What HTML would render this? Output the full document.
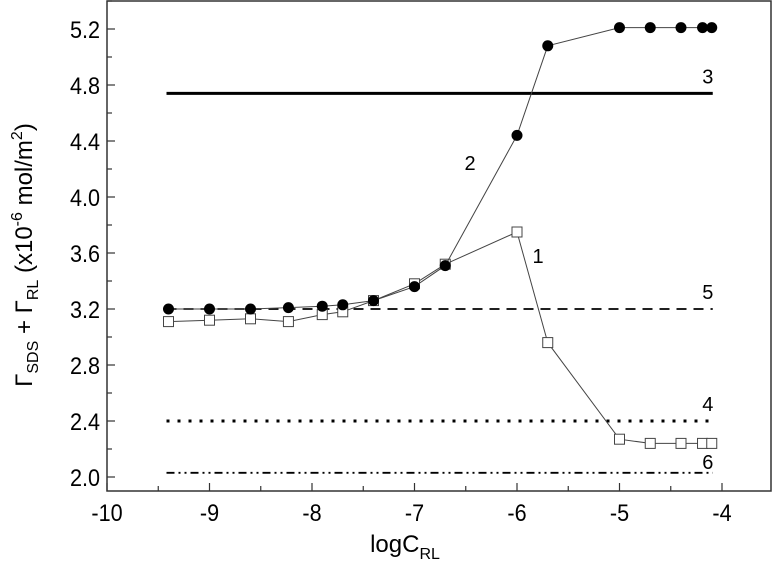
<!DOCTYPE html>
<html><head><meta charset="utf-8">
<style>
html,body{margin:0;padding:0;background:#fff;}
svg{display:block;font-family:"Liberation Sans",Arial,sans-serif;}
</style></head>
<body>
<svg id="chart" width="774" height="571" viewBox="0 0 774 571">
<rect x="107" y="1" width="664" height="490" fill="none" stroke="#333" stroke-width="1.5"/>
<g id="axes"></g>
<g id="series"></g>
<text x="22" y="245" font-size="24" text-anchor="middle" transform="rotate(-90 32 245)">Γ<tspan font-size="16" dy="6">SDS</tspan><tspan dy="-6"> + Γ</tspan><tspan font-size="16" dy="6">RL</tspan><tspan dy="-6"> (x10</tspan><tspan font-size="16" dy="-10">-6</tspan><tspan dy="10"> mol/m</tspan><tspan font-size="16" dy="-10">2</tspan><tspan dy="10">)</tspan></text>
<text x="405" y="552" font-size="24" text-anchor="middle">logC<tspan font-size="16" dy="7">RL</tspan></text>
</svg>
<script>
const xTicks=[-10,-9,-8,-7,-6,-5,-4];
const yTicks=[2.0,2.4,2.8,3.2,3.6,4.0,4.4,4.8,5.2];
const xs2=[-9.4,-9.0,-8.6,-8.23,-7.9,-7.7,-7.4,-7.0,-6.7,-6.0,-5.7,-5.0,-4.7,-4.4,-4.19,-4.1];
const ys2=[3.20,3.20,3.20,3.21,3.22,3.23,3.26,3.36,3.51,4.44,5.08,5.21,5.21,5.21,5.21,5.21];
const xs1=[-9.4,-9.0,-8.6,-8.23,-7.9,-7.7,-7.4,-7.0,-6.7,-6.0,-5.7,-5.0,-4.7,-4.4,-4.19,-4.1];
const ys1=[3.11,3.12,3.13,3.11,3.16,3.18,3.26,3.38,3.52,3.75,2.96,2.27,2.24,2.24,2.24,2.24];
const refNames=['3','5','4','6'];
const refValues=[4.74,3.2,2.4,2.03];
const refStart=-9.4, refEnd=-4.1;
const NS='http://www.w3.org/2000/svg';
function X(v){return 517+(v+6)*102.5;}
function Y(v){return 477-(v-2)*140;}
function mk(tag,attrs,parent){const e=document.createElementNS(NS,tag);for(const k in attrs)e.setAttribute(k,attrs[k]);parent.appendChild(e);return e;}
const ax=document.getElementById('axes'), sr=document.getElementById('series');
xTicks.forEach(t=>{
  const l=mk('line',{x1:X(t),x2:X(t),y1:491,y2:483,stroke:'#333','stroke-width':1.2},ax);
  
  
  if(t<-4){const m=mk('line',{x1:X(t+0.5),x2:X(t+0.5),y1:491,y2:486,stroke:'#333','stroke-width':1.2},ax);
  
  }
  const tx=mk('text',{x:0,y:0,'font-size':24,'text-anchor':'middle',transform:'translate('+X(t)+',521) scale(0.9,1)'},ax);tx.textContent=t;
  
  
});
yTicks.forEach(t=>{
  const l=mk('line',{x1:107,x2:115,y1:Y(t),y2:Y(t),stroke:'#333','stroke-width':1.2},ax);
  
  
  const m=mk('line',{x1:107,x2:112,y1:Y(t+0.2),y2:Y(t+0.2),stroke:'#333','stroke-width':1.2},ax);
  
  
  const tx=mk('text',{x:0,y:0,'font-size':24,'text-anchor':'end',transform:'translate(100,'+(Y(t)+9)+') scale(0.9,1)'},ax);tx.textContent=t.toFixed(1);
  
  
});
const dashes=['','10,7','3,8','8,4,2,4,2,4'];
const widths=[3,1.8,3,1.8];
refValues.forEach((v,i)=>{
  const l=mk('line',{x1:X(refStart)-2,x2:X(refEnd)+1,y1:Y(v),y2:Y(v),stroke:'#000','stroke-width':widths[i],'stroke-dasharray':dashes[i]},sr);
  
  
  const tx=mk('text',{x:X(refEnd)-4,y:Y(v)-(i==3?4:10),'font-size':20,'text-anchor':'middle'},sr);tx.textContent=refNames[i];
  
  
});
const p1=mk('polyline',{points:xs1.map((x,i)=>X(x)+','+Y(ys1[i])).join(' '),fill:'none',stroke:'#444','stroke-width':1},sr);


xs1.forEach((x,i)=>{
  const r=mk('rect',{x:X(x)-5,y:Y(ys1[i])-5,width:10,height:10,fill:'#fff',stroke:'#444','stroke-width':1},sr);
  
  
});
const p2=mk('polyline',{points:xs2.map((x,i)=>X(x)+','+Y(ys2[i])).join(' '),fill:'none',stroke:'#444','stroke-width':1},sr);


xs2.forEach((x,i)=>{
  const c=mk('circle',{cx:X(x),cy:Y(ys2[i]),r:5.5,fill:'#000'},sr);
  
  
});
const l1=mk('text',{x:538,y:263,'font-size':20,'text-anchor':'middle'},sr);l1.textContent='1';


const l2=mk('text',{x:470,y:170,'font-size':20,'text-anchor':'middle'},sr);l2.textContent='2';


</script>
</body></html>
